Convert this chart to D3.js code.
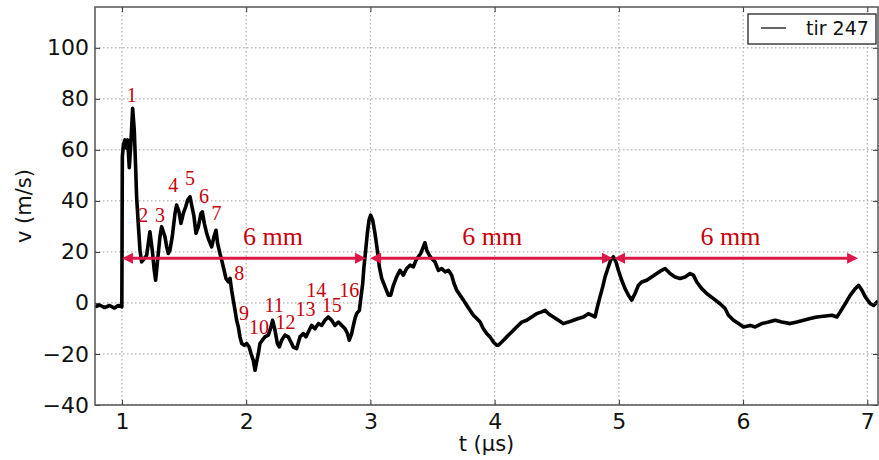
<!DOCTYPE html>
<html><head><meta charset="utf-8">
<script src="https://cdn.jsdelivr.net/npm/d3@7"></script>
<style>body{margin:0;background:#fff}svg{display:block}</style>
</head><body><svg id="c" width="879" height="460"></svg>
<script>
// ---- data ----
const tVals = [0.783,0.82,0.86,0.90,0.94,0.97,0.999,1.003,1.012,1.024,1.038,1.046,1.059,1.072,1.086,1.099,1.110,1.118,1.131,1.145,1.158,1.180,1.199,1.212,1.225,1.244,1.260,1.271,1.287,1.306,1.319,1.333,1.346,1.360,1.373,1.386,1.405,1.427,1.440,1.459,1.475,1.494,1.513,1.529,1.548,1.561,1.580,1.596,1.615,1.636,1.647,1.663,1.682,1.700,1.722,1.741,1.757,1.770,1.789,1.803,1.816,1.837,1.856,1.870,1.883,1.896,1.910,1.923,1.937,1.950,1.964,1.985,2.004,2.023,2.039,2.057,2.071,2.084,2.098,2.111,2.130,2.151,2.178,2.200,2.213,2.232,2.251,2.267,2.286,2.312,2.339,2.366,2.379,2.406,2.433,2.460,2.481,2.500,2.527,2.554,2.581,2.608,2.634,2.661,2.688,2.715,2.742,2.769,2.796,2.815,2.830,2.849,2.863,2.876,2.889,2.911,2.921,2.938,2.948,2.962,2.975,2.989,3.002,3.018,3.037,3.056,3.072,3.091,3.118,3.145,3.163,3.185,3.211,3.238,3.265,3.292,3.319,3.346,3.367,3.386,3.405,3.426,3.439,3.453,3.474,3.493,3.520,3.547,3.574,3.601,3.628,3.654,3.673,3.695,3.722,3.749,3.775,3.802,3.829,3.856,3.883,3.909,3.936,3.963,3.990,4.017,4.030,4.057,4.097,4.137,4.177,4.218,4.258,4.298,4.338,4.379,4.406,4.433,4.473,4.513,4.553,4.593,4.634,4.674,4.714,4.754,4.781,4.808,4.827,4.848,4.870,4.889,4.915,4.934,4.956,4.977,4.996,5.023,5.050,5.077,5.104,5.130,5.157,5.184,5.224,5.264,5.305,5.345,5.372,5.412,5.452,5.493,5.533,5.573,5.600,5.627,5.667,5.707,5.761,5.815,5.855,5.882,5.923,5.963,6.003,6.057,6.097,6.151,6.205,6.258,6.312,6.379,6.433,6.487,6.540,6.594,6.648,6.715,6.755,6.782,6.822,6.862,6.903,6.930,6.957,6.984,7.024,7.051,7.078,7.086];
const vVals = [-1.5,-0.8,-1.8,-1.0,-2.0,-1.0,-1.5,57.3,62.0,63.9,60.6,63.9,53.0,62.6,76.3,67.8,53.4,41.6,31.2,20.7,16.1,17.4,18.7,23.3,27.9,20.7,12.8,8.9,16.8,26.0,29.9,27.9,26.0,22.0,19.4,20.7,26.0,35.1,38.4,35.7,31.2,35.1,37.7,40.3,41.6,38.4,33.8,27.3,29.9,35.1,35.7,31.2,27.3,24.6,22.0,26.0,28.5,23.3,19.4,16.8,14.1,9.6,8.3,9.6,5.0,1.1,-2.8,-6.8,-9.4,-13.3,-15.9,-16.6,-15.9,-17.2,-19.8,-22.5,-26.4,-23.1,-19.8,-15.9,-14.6,-13.3,-12.6,-9.4,-6.8,-10.7,-15.9,-17.2,-14.6,-12.6,-13.3,-15.9,-17.3,-17.9,-13.3,-12.0,-13.3,-11.4,-8.8,-10.1,-8.1,-8.8,-6.8,-5.5,-6.8,-8.8,-7.5,-8.8,-10.1,-12.0,-14.6,-12.0,-8.8,-6.1,-4.2,-2.9,1.1,7.6,14.1,20.7,27.2,32.5,34.4,32.5,27.2,20.7,14.1,9.6,6.3,3.0,3.0,6.9,10.2,12.8,10.9,13.5,14.8,14.1,16.8,18.1,19.4,22.0,23.6,20.7,18.7,17.4,16.1,12.8,13.5,12.2,12.8,10.9,7.6,5.0,3.0,1.1,-0.9,-2.9,-4.8,-6.1,-7.5,-10.1,-12.0,-13.3,-15.3,-16.6,-16.6,-15.3,-13.3,-11.4,-9.4,-7.5,-6.8,-5.5,-4.2,-3.5,-2.9,-4.2,-5.5,-6.8,-8.1,-7.5,-6.8,-6.1,-5.5,-4.2,-4.8,-5.5,-1.6,2.4,6.3,10.2,14.1,16.8,18.1,16.1,12.8,8.9,5.6,3.0,1.1,3.7,6.9,8.2,8.9,10.2,11.5,12.8,13.5,11.5,10.2,9.6,10.2,11.5,10.9,8.2,5.6,3.7,1.7,-0.3,-2.2,-4.8,-6.8,-8.1,-9.4,-8.8,-9.4,-8.1,-7.5,-6.8,-7.5,-8.1,-7.5,-6.8,-6.1,-5.5,-5.2,-4.8,-5.5,-3.5,-0.3,3.0,5.6,6.9,5.0,2.4,-0.3,-1.0,0.4,0.0];
const seriesName = "tir 247";
const xTicks = [1,2,3,4,5,6,7];
const yTicks = [-40,-20,0,20,40,60,80,100];
const peakLabels = ["1","2","3","4","5","6","7","8","9","10","11","12","13","14","15","16"];
const peakT = [1.079,1.172,1.306,1.413,1.548,1.660,1.762,1.944,1.982,2.103,2.224,2.316,2.478,2.564,2.688,2.830];
const peakV = [81.5,34.4,34.4,46.2,48.8,41.9,35.1,11.8,-3.9,-9.4,-0.9,-7.5,-2.2,5.0,-0.9,5.0];
const arrowStart = [1.0,2.997,4.961];
const arrowEnd = [2.965,4.953,6.926];
const arrowHeadsLeft = [true,true,true];
const arrowHeadsRight = [true,true,true];
const arrowV = 17.5;
const spanLabels = ["6 mm","6 mm","6 mm"];
const spanT = [2.216,3.98,5.898];
const spanV = 22.6;

// ---- layout ----
const W = 879, H = 460;
const m = {left:95, top:7, right:1, bottom:55};
const iw = W - m.left - m.right, ih = H - m.top - m.bottom;
const svg = d3.select("#c");
const g = svg.append("g").attr("transform",`translate(${m.left},${m.top})`);
const x = d3.scaleLinear().domain([0.783,7.086]).range([0,iw]);
const y = d3.scaleLinear().domain([-40,116]).range([ih,0]);

// grid
g.append("g").selectAll("line").data(xTicks).join("line")
  .attr("x1",d=>x(d)).attr("x2",d=>x(d)).attr("y1",0).attr("y2",ih)
  .attr("stroke","#9a9a9a").attr("stroke-width",1).attr("stroke-dasharray","1.5,2.5");
g.append("g").selectAll("line").data(yTicks).join("line")
  .attr("y1",d=>y(d)).attr("y2",d=>y(d)).attr("x1",0).attr("x2",iw)
  .attr("stroke","#9a9a9a").attr("stroke-width",1).attr("stroke-dasharray","1.5,2.5");

// trace
g.append("clipPath").attr("id","clip").append("rect").attr("width",iw).attr("height",ih);
const pts = tVals.map((t,i)=>[t,vVals[i]]);
g.append("path").datum(pts).attr("clip-path","url(#clip)")
  .attr("fill","none").attr("stroke","#000").attr("stroke-width",3.6)
  .attr("stroke-linejoin","round")
  .attr("d",d3.line().x(d=>x(d[0])).y(d=>y(d[1])));

// axes
const fontTick = "DejaVu Sans, sans-serif";
const ax = d3.axisBottom(x).tickValues(xTicks).tickSize(-5).tickPadding(8).tickFormat(d3.format("d"));
const ay = d3.axisLeft(y).tickValues(yTicks).tickSize(-5).tickPadding(6).tickFormat(d=>d<0?"\u2212"+Math.abs(d):d);
const axT = d3.axisTop(x).tickValues(xTicks).tickSize(-5).tickFormat("");
const ayR = d3.axisRight(y).tickValues(yTicks).tickSize(-5).tickFormat("");
function styleAxis(sel){
  sel.select(".domain").remove();
  sel.selectAll(".tick line").attr("stroke","#333").attr("stroke-width",1);
  sel.selectAll(".tick text").attr("fill","#111").attr("font-family",fontTick).attr("font-size",22);
}
g.append("g").attr("transform",`translate(0,${ih})`).call(ax).call(styleAxis);
g.append("g").call(ay).call(styleAxis);
g.append("g").call(axT).call(styleAxis);
g.append("g").attr("transform",`translate(${iw},0)`).call(ayR).call(styleAxis);
g.append("rect").attr("width",iw).attr("height",ih).attr("fill","none").attr("stroke","#555").attr("stroke-width",1.5);

// axis labels
svg.append("text").attr("x",m.left+iw/2).attr("y",451).attr("text-anchor","middle")
  .attr("font-family",fontTick).attr("font-size",21).attr("fill","#111").text("t (\u00b5s)");
svg.append("text").attr("transform",`translate(31,${m.top+ih/2}) rotate(-90)`).attr("text-anchor","middle")
  .attr("font-family",fontTick).attr("font-size",21).attr("fill","#111").text("v (m/s)");

// arrows
const red = "#dc1848", tred = "#c8000a";
const ann = g.append("g");
const hl = 11, hw = 5.5;
arrowStart.forEach((s,i)=>{
  const x0 = x(s), x1 = x(arrowEnd[i]), yy = y(arrowV);
  ann.append("line").attr("x1",x0+(arrowHeadsLeft[i]?hl-1:0)).attr("x2",x1-(arrowHeadsRight[i]?hl-1:0))
    .attr("y1",yy).attr("y2",yy).attr("stroke",red).attr("stroke-width",3);
  if(arrowHeadsLeft[i]) ann.append("path").attr("fill",red)
    .attr("d",`M${x0},${yy}L${x0+hl},${yy-hw}L${x0+hl},${yy+hw}Z`);
  if(arrowHeadsRight[i]) ann.append("path").attr("fill",red)
    .attr("d",`M${x1},${yy}L${x1-hl},${yy-hw}L${x1-hl},${yy+hw}Z`);
});
spanLabels.forEach((s,i)=>{
  ann.append("text").attr("x",x(spanT[i])).attr("y",y(spanV)).attr("text-anchor","middle")
    .attr("font-family","Liberation Serif, Times New Roman, serif").attr("font-size",26).attr("fill",tred).text(s);
});
peakLabels.forEach((s,i)=>{
  ann.append("text").attr("x",x(peakT[i])).attr("y",y(peakV[i])).attr("dy","0.35em").attr("text-anchor","middle")
    .attr("font-family","Liberation Serif, Times New Roman, serif").attr("font-size",20).attr("fill",tred).text(s);
});

// legend
const lg = svg.append("g");
lg.append("rect").attr("x",748).attr("y",14).attr("width",128).attr("height",30)
  .attr("fill","#fff").attr("stroke","#111").attr("stroke-width",1.2);
lg.append("line").attr("x1",761).attr("x2",786).attr("y1",28).attr("y2",28).attr("stroke","#000").attr("stroke-width",1.2);
lg.append("text").attr("x",806).attr("y",35).attr("font-family",fontTick).attr("font-size",19).attr("fill","#111").text(seriesName);
</script></body></html>
